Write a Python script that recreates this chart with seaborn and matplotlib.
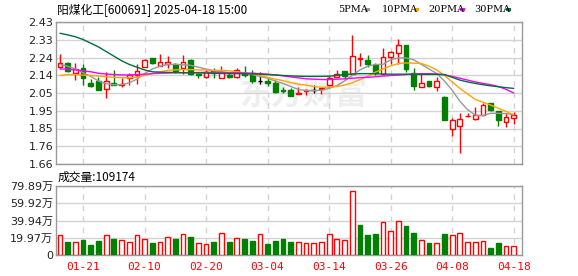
import numpy as np
import pandas as pd
import matplotlib
matplotlib.use("Agg")
import matplotlib.pyplot as plt
import seaborn as sns
from matplotlib.patches import Rectangle

# ---------------- data ----------------
dates = ["01-16", "01-17", "01-20", "01-21", "01-22", "01-23", "01-24", "01-27",
         "02-05", "02-06", "02-07", "02-10", "02-11", "02-12", "02-13", "02-14",
         "02-17", "02-18", "02-19", "02-20", "02-21", "02-24", "02-25", "02-26",
         "02-27", "02-28", "03-03", "03-04", "03-05", "03-06", "03-07", "03-10",
         "03-11", "03-12", "03-13", "03-14", "03-17", "03-18", "03-19", "03-20",
         "03-21", "03-24", "03-25", "03-26", "03-27", "03-28", "03-31", "04-01",
         "04-02", "04-03", "04-07", "04-08", "04-09", "04-10", "04-11", "04-14",
         "04-15", "04-16", "04-17", "04-18"]

opens = [2.184, 2.206, 2.155, 2.179, 2.101, 2.112, 2.065, 2.097, 2.090, 2.125,
         2.144, 2.185, 2.233, 2.193, 2.200, 2.200, 2.179, 2.224, 2.150, 2.133,
         2.164, 2.125, 2.140, 2.133, 2.155, 2.152, 2.110, 2.110, 2.097, 2.060,
         2.061, 2.040, 2.055, 2.060, 2.065, 2.088, 2.133, 2.166, 2.146, 2.227,
         2.224, 2.197, 2.146, 2.238, 2.260, 2.305, 2.155, 2.076, 2.112, 2.076,
         2.025, 1.848, 1.868, 1.918, 1.904, 1.926, 1.992, 1.947, 1.890, 1.908]
highs = [2.256, 2.215, 2.206, 2.200, 2.120, 2.130, 2.160, 2.170, 2.128, 2.152,
         2.200, 2.232, 2.235, 2.256, 2.245, 2.210, 2.250, 2.230, 2.155, 2.170,
         2.180, 2.190, 2.160, 2.180, 2.190, 2.170, 2.160, 2.130, 2.115, 2.075,
         2.070, 2.075, 2.065, 2.090, 2.077, 2.135, 2.170, 2.166, 2.360, 2.260,
         2.250, 2.210, 2.290, 2.275, 2.338, 2.305, 2.180, 2.150, 2.112, 2.130,
         2.030, 1.910, 1.935, 1.937, 1.969, 1.990, 1.992, 1.950, 1.936, 1.940]
lows = [2.180, 2.160, 2.115, 2.088, 2.080, 2.061, 2.020, 2.088, 2.076, 2.088,
        2.094, 2.185, 2.200, 2.190, 2.180, 2.155, 2.150, 2.140, 2.125, 2.125,
        2.125, 2.125, 2.125, 2.125, 2.130, 2.100, 2.094, 2.085, 2.045, 2.045,
        2.030, 2.038, 2.035, 2.045, 2.040, 2.070, 2.133, 2.120, 2.146, 2.190,
        2.185, 2.140, 2.140, 2.200, 2.200, 2.160, 2.060, 2.076, 2.076, 2.055,
        1.899, 1.812, 1.720, 1.915, 1.900, 1.926, 1.950, 1.866, 1.859, 1.877]
closes = [2.206, 2.166, 2.173, 2.125, 2.085, 2.061, 2.112, 2.090, 2.095, 2.140,
          2.164, 2.224, 2.206, 2.211, 2.211, 2.166, 2.211, 2.146, 2.140, 2.160,
          2.152, 2.160, 2.130, 2.170, 2.145, 2.110, 2.110, 2.100, 2.052, 2.055,
          2.030, 2.045, 2.060, 2.060, 2.070, 2.125, 2.146, 2.138, 2.246, 2.236,
          2.200, 2.152, 2.240, 2.269, 2.305, 2.175, 2.085, 2.100, 2.085, 2.112,
          1.899, 1.899, 1.902, 1.921, 1.926, 1.980, 1.953, 1.899, 1.913, 1.926]

ma5 = [2.200, 2.190, 2.175, 2.155, 2.135, 2.110, 2.095, 2.090, 2.090, 2.100,
       2.120, 2.150, 2.175, 2.190, 2.200, 2.200, 2.198, 2.195, 2.185, 2.175,
       2.165, 2.160, 2.155, 2.155, 2.152, 2.145, 2.135, 2.125, 2.110, 2.097,
       2.080, 2.065, 2.058, 2.058, 2.060, 2.070, 2.085, 2.110, 2.140, 2.170,
       2.190, 2.200, 2.200, 2.225, 2.235, 2.235, 2.225, 2.200, 2.175, 2.150,
       2.110, 2.060, 2.000, 1.955, 1.925, 1.922, 1.935, 1.935, 1.933, 1.928]
ma10 = [2.140, 2.145, 2.145, 2.142, 2.140, 2.137, 2.133, 2.130, 2.128, 2.127,
        2.130, 2.140, 2.150, 2.160, 2.168, 2.170, 2.172, 2.172, 2.170, 2.170,
        2.168, 2.168, 2.165, 2.160, 2.155, 2.148, 2.140, 2.130, 2.120, 2.112,
        2.102, 2.092, 2.088, 2.080, 2.076, 2.077, 2.080, 2.088, 2.100, 2.118,
        2.135, 2.158, 2.175, 2.192, 2.205, 2.208, 2.207, 2.205, 2.190, 2.170,
        2.140, 2.105, 2.070, 2.040, 2.010, 1.995, 1.980, 1.962, 1.945, 1.926]
ma20 = [2.175, 2.175, 2.170, 2.165, 2.160, 2.152, 2.148, 2.145, 2.143, 2.143,
        2.145, 2.147, 2.150, 2.152, 2.153, 2.155, 2.155, 2.155, 2.156, 2.157,
        2.157, 2.156, 2.155, 2.155, 2.154, 2.152, 2.150, 2.147, 2.143, 2.138,
        2.132, 2.127, 2.122, 2.120, 2.118, 2.118, 2.120, 2.122, 2.125, 2.128,
        2.130, 2.133, 2.137, 2.140, 2.142, 2.145, 2.148, 2.150, 2.150, 2.148,
        2.143, 2.135, 2.125, 2.115, 2.105, 2.097, 2.090, 2.080, 2.065, 2.045]
ma30 = [2.369, 2.360, 2.350, 2.335, 2.315, 2.295, 2.270, 2.245, 2.220, 2.200,
        2.185, 2.170, 2.160, 2.158, 2.157, 2.156, 2.155, 2.155, 2.154, 2.153,
        2.152, 2.151, 2.150, 2.150, 2.149, 2.148, 2.147, 2.145, 2.143, 2.140,
        2.138, 2.136, 2.135, 2.135, 2.135, 2.136, 2.140, 2.145, 2.148, 2.150,
        2.150, 2.149, 2.148, 2.147, 2.147, 2.147, 2.146, 2.146, 2.146, 2.146,
        2.145, 2.130, 2.115, 2.105, 2.097, 2.090, 2.084, 2.079, 2.074, 2.070]

# volume in 万 (10k) units, and colour flag (True = red / up)
volume_wan = [23.2, 15.4, 15.1, 17.4, 11.6, 16.6, 23.2, 18.5, 17.4, 15.1,
              23.2, 18.5, 14.3, 15.1, 20.5, 18.5, 24.3, 21.2, 14.3, 12.7,
              15.4, 25.8, 15.4, 19.3, 18.5, 16.6, 24.3, 12.7, 16.6, 18.5,
              15.4, 15.4, 14.3, 14.3, 15.4, 24.3, 18.5, 17.4, 74.5, 34.7,
              23.2, 24.3, 37.8, 27.8, 39.4, 33.6, 25.8, 17.4, 14.3, 14.3,
              24.3, 23.2, 25.8, 15.4, 15.4, 16.6, 8.5, 14.3, 10.4, 10.9]
volume_up = [1, 0, 1, 0, 0, 0, 1, 0, 1, 1,
             1, 1, 0, 1, 1, 0, 1, 0, 1, 1,
             0, 1, 0, 1, 0, 0, 1, 0, 0, 0,
             0, 1, 1, 1, 1, 1, 1, 1, 1, 0,
             0, 0, 1, 1, 1, 0, 0, 1, 0, 1,
             0, 1, 1, 1, 1, 1, 0, 0, 1, 1]

x_tick_dates = ["01-21", "02-10", "02-20", "03-04", "03-14", "03-26", "04-08", "04-18"]
price_tick_labels = ["1.66", "1.76", "1.85", "1.95", "2.05", "2.14", "2.24", "2.33", "2.43"]
price_min, price_max = 1.66, 2.43
vol_tick_labels = ["0", "19.97万", "39.94万", "59.92万", "79.89万"]
vol_max_wan = 79.89
title_text = "阳煤化工[600691] 2025-04-18 15:00"
volume_text = "成交量:109174"
ma_names = ["5PMA", "10PMA", "20PMA", "30PMA"]

# ---------------- style ----------------
sns.set_style("white")
plt.rcParams['font.family'] = ['DejaVu Sans', 'Noto Sans CJK SC']

RED = "#ff0000"
GREEN = "#008000"
MA_COLORS = ["#999999", "#ffa500", "#ff00ff", "#006f3c"]
SPINE = "#999999"
GRID = "#d3d3d3"
TXT = "#222222"

W, H = 578, 276
fig = plt.figure(figsize=(W / 100, H / 100), dpi=100)
fig.patch.set_facecolor("white")
axp = fig.add_axes([56 / W, 1 - 164 / H, 466 / W, 142 / H])
axv = fig.add_axes([56 / W, 1 - 255 / H, 466 / W, 69 / H])

idx = np.arange(len(dates))
tick_pos = [dates.index(d) for d in x_tick_dates]

# watermark
axp.text(0.53, 0.48, "东方财富", transform=axp.transAxes, fontsize=23,
         fontweight="bold", color="#eeeeee", ha="center", va="center",
         family=["Noto Sans CJK SC"], zorder=0.5)

# candles
bw = 0.62
for i in idx:
    o, h, l, c = opens[i], highs[i], lows[i], closes[i]
    if c > o:
        col = RED
        axp.vlines(i, max(o, c), h, color=col, lw=1, zorder=3)
        axp.vlines(i, l, min(o, c), color=col, lw=1, zorder=3)
        axp.bar(i, c - o, bottom=o, width=bw, facecolor="white", edgecolor=col,
                linewidth=1, zorder=3)
    elif c < o:
        col = GREEN
        axp.vlines(i, l, h, color=col, lw=1, zorder=3)
        axp.bar(i, c - o, bottom=o, width=bw, facecolor=col, edgecolor=col,
                linewidth=1, zorder=3)
    else:
        col = "black"
        axp.vlines(i, l, h, color=col, lw=1, zorder=3)
        axp.hlines(c, i - bw / 2, i + bw / 2, color=col, lw=1, zorder=3)

# moving averages
for series, colr in zip([ma5, ma10, ma20, ma30], MA_COLORS):
    sns.lineplot(x=idx, y=series, ax=axp, color=colr, linewidth=1, legend=False, zorder=4)

# volume
for i in idx:
    if volume_up[i]:
        axv.bar(i, volume_wan[i], width=bw, facecolor="white", edgecolor=RED, linewidth=1, zorder=3)
    else:
        axv.bar(i, volume_wan[i], width=bw, facecolor=GREEN, edgecolor=GREEN, linewidth=1, zorder=3)

# axes formatting
for ax in (axp, axv):
    ax.set_xlim(-0.52, 60.08)
    ax.set_xticks(tick_pos)
    ax.grid(axis="x", color=GRID, linestyle=(0, (4, 4)), lw=1)
    ax.grid(axis="y", color=GRID, linestyle="-", lw=1)
    ax.set_axisbelow(True)
    for s in ax.spines.values():
        s.set_color(SPINE)
        s.set_linewidth(1)
    ax.tick_params(length=0, pad=2)
    ax.set_xlabel("")
    ax.set_ylabel("")

axp.set_ylim(price_min, price_max)
axp.set_yticks(np.linspace(price_min, price_max, len(price_tick_labels)))
axp.set_yticklabels(price_tick_labels, fontsize=8, color=TXT)
axp.set_xticklabels([])

axv.set_ylim(0, vol_max_wan)
axv.set_yticks(np.linspace(0, vol_max_wan, len(vol_tick_labels)))
axv.set_yticklabels(vol_tick_labels, fontsize=8, color=TXT)
axv.set_xticklabels(x_tick_dates, fontsize=8, color=RED, family=["DejaVu Sans Mono"])
axv.tick_params(axis="x", pad=5)

# title and legend
fig.text(57 / W, 1 - 10 / H, title_text, fontsize=8.5, color="black",
         family=["Noto Sans CJK SC", "DejaVu Sans"], ha="left", va="center")
leg_x = [338, 382, 428, 474]
for name, colr, x0 in zip(ma_names, MA_COLORS, leg_x):
    t = fig.text(x0 / W, 1 - 9 / H, name, fontsize=7, color="black",
                 ha="left", va="center", family=["DejaVu Serif"])
sq_x = [365, 414, 460, 506]
for colr, x0 in zip(MA_COLORS, sq_x):
    fig.patches.append(Rectangle((x0 / W, 1 - 11 / H), 5 / W, 3 / H,
                                 transform=fig.transFigure, facecolor=colr,
                                 edgecolor="none"))
fig.text(58 / W, 1 - 177 / H, volume_text, fontsize=8.5, color="black",
         family=["Noto Sans CJK SC", "DejaVu Sans"], ha="left", va="center")

fig.savefig("out.png", dpi=100)
